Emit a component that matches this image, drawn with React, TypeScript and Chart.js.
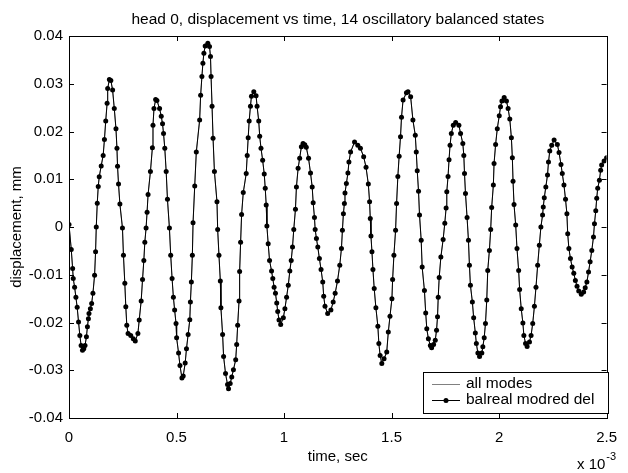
import React, { useEffect, useRef } from "react";
import { Chart, registerables } from "chart.js";

Chart.register(...registerables);

// ---- data (time in units of 1e-3 s, displacement in mm) ----
const timeMs = [
  0.0, 0.0105, 0.0169, 0.0197, 0.0261, 0.0321, 0.038, 0.0444, 0.0504, 0.0563,
  0.0627, 0.0687, 0.0746, 0.081, 0.0856, 0.0902, 0.093, 0.0994, 0.1053, 0.1113,
  0.119, 0.1236, 0.1268, 0.1314, 0.136, 0.1406, 0.1497, 0.1589, 0.1648, 0.1708,
  0.1772, 0.1799, 0.1877, 0.1946, 0.2028, 0.2106, 0.2184, 0.223, 0.2257, 0.2303,
  0.2367, 0.2486, 0.2532, 0.2596, 0.2642, 0.2688, 0.2747, 0.2871, 0.299, 0.3082,
  0.3205, 0.3265, 0.3356, 0.342, 0.348, 0.3526, 0.3585, 0.3631, 0.3677, 0.3787,
  0.3878, 0.3906, 0.3952, 0.4029, 0.4089, 0.4212, 0.429, 0.435, 0.4396, 0.4455,
  0.4519, 0.4579, 0.467, 0.473, 0.4794, 0.4854, 0.4913, 0.4977, 0.5005, 0.5096,
  0.516, 0.5252, 0.5311, 0.5403, 0.5463, 0.554, 0.5618, 0.5646, 0.5691, 0.5737,
  0.5769, 0.5847, 0.592, 0.6076, 0.6122, 0.6181, 0.6227, 0.6273, 0.6333, 0.6456,
  0.6534, 0.658, 0.6607, 0.6653, 0.6699, 0.6763, 0.6882, 0.6914, 0.6974, 0.7038,
  0.7065, 0.7143, 0.7189, 0.728, 0.7372, 0.7418, 0.7496, 0.7569, 0.7647, 0.7752,
  0.7798, 0.7844, 0.7908, 0.7935, 0.7981, 0.8027, 0.8104, 0.8242, 0.8288, 0.8333,
  0.8379, 0.8439, 0.8485, 0.8594, 0.87, 0.8746, 0.8823, 0.8869, 0.8929, 0.9006,
  0.908, 0.9126, 0.9171, 0.9203, 0.9263, 0.9327, 0.9419, 0.9478, 0.9538, 0.9602,
  0.9661, 0.9707, 0.9767, 0.9844, 0.9968, 1.0041, 1.0119, 1.0197, 1.027, 1.0334,
  1.0394, 1.0453, 1.0531, 1.0577, 1.0655, 1.0728, 1.0806, 1.0884, 1.0966, 1.1035,
  1.114, 1.1232, 1.131, 1.1355, 1.1415, 1.1447, 1.1507, 1.1571, 1.1644, 1.1722,
  1.18, 1.1845, 1.1905, 1.2029, 1.218, 1.2285, 1.2377, 1.2486, 1.2592, 1.267,
  1.2715, 1.2761, 1.2807, 1.2834, 1.2899, 1.2972, 1.3018, 1.3095, 1.3279, 1.343,
  1.3553, 1.3704, 1.3814, 1.392, 1.3979, 1.4011, 1.4043, 1.4089, 1.4135, 1.4194,
  1.4272, 1.4364, 1.441, 1.4469, 1.4547, 1.4652, 1.4776, 1.4849, 1.4927, 1.5018,
  1.505, 1.511, 1.5188, 1.5234, 1.5293, 1.5353, 1.5417, 1.5463, 1.5536, 1.5692,
  1.5765, 1.5888, 1.5994, 1.6104, 1.615, 1.6195, 1.6255, 1.6301, 1.6379, 1.6424,
  1.6529, 1.6589, 1.6639, 1.6713, 1.6804, 1.6864, 1.6955, 1.7033, 1.7093, 1.7138,
  1.7171, 1.7216, 1.7294, 1.7399, 1.7477, 1.7537, 1.7569, 1.7628, 1.7674, 1.772,
  1.778, 1.7871, 1.7981, 1.8132, 1.821, 1.8315, 1.8361, 1.8393, 1.8439, 1.8512,
  1.8576, 1.8622, 1.8668, 1.8759, 1.8819, 1.8897, 1.8943, 1.9016, 1.9093, 1.9199,
  1.9245, 1.9309, 1.9368, 1.9428, 1.9474, 1.9551, 1.9611, 1.9657, 1.9735, 1.9767,
  1.984, 1.9918, 2.0009, 2.0069, 2.0133, 2.0238, 2.0344, 2.0421, 2.0499, 2.0573,
  2.0618, 2.065, 2.0696, 2.0774, 2.0834, 2.0911, 2.0957, 2.1031, 2.1108, 2.1154,
  2.1232, 2.1305, 2.1415, 2.1489, 2.1566, 2.1644, 2.1717, 2.1795, 2.1873, 2.1946,
  2.2024, 2.2056, 2.2102, 2.2175, 2.2253, 2.2299, 2.2358, 2.245, 2.256, 2.2711,
  2.2789, 2.288, 2.294, 2.3018, 2.3091, 2.3155, 2.3192, 2.3247, 2.332, 2.3398,
  2.3476, 2.3549, 2.3627, 2.3705, 2.3823, 2.3933, 2.4006, 2.4084, 2.4162, 2.4235,
  2.4313, 2.4391, 2.4437, 2.4497, 2.4542, 2.4588, 2.4666, 2.4726, 2.4771, 2.4886,
  2.5,
];

const displacement = [
  0.0005, -0.0047, -0.0087, -0.0108, -0.0126, -0.0147, -0.0168, -0.0199, -0.0227, -0.0248,
  -0.0258, -0.0255, -0.0248, -0.023, -0.0209, -0.0192, -0.0181, -0.0171, -0.016, -0.0139,
  -0.0101, -0.0052, 0.0, 0.005, 0.0085, 0.0105, 0.0128, 0.015, 0.0183, 0.0222,
  0.0259, 0.029, 0.0309, 0.0307, 0.0287, 0.0248, 0.0206, 0.0165, 0.0127, 0.009,
  0.0048, -0.0002, -0.0059, -0.0118, -0.0167, -0.0206, -0.0223, -0.0227, -0.0234, -0.0239,
  -0.0223, -0.0195, -0.0155, -0.011, -0.007, -0.0032, -0.0002, 0.0031, 0.0068, 0.0116,
  0.0166, 0.0213, 0.0248, 0.0267, 0.0265, 0.0248, 0.0232, 0.0216, 0.0196, 0.0165,
  0.0116, 0.0058, -0.0002, -0.0059, -0.0108, -0.0147, -0.0174, -0.0202, -0.0232, -0.0264,
  -0.029, -0.0316, -0.0312, -0.0285, -0.0255, -0.0225, -0.0194, -0.0157, -0.0115, -0.0059,
  0.0009, 0.0086, 0.0157, 0.0224, 0.0276, 0.0315, 0.0343, 0.0364, 0.0379, 0.0385,
  0.0378, 0.0357, 0.0315, 0.0253, 0.0186, 0.0116, 0.0053, -0.0005, -0.0059, -0.0113,
  -0.0169, -0.0225, -0.0271, -0.0307, -0.033, -0.0339, -0.0328, -0.0314, -0.0299, -0.0278,
  -0.0246, -0.0206, -0.0155, -0.0093, -0.0032, 0.0026, 0.0072, 0.0112, 0.015, 0.0187,
  0.0222, 0.0253, 0.0274, 0.0283, 0.0275, 0.0253, 0.0222, 0.019, 0.0165, 0.014,
  0.0111, 0.0081, 0.0046, 0.0002, -0.0035, -0.007, -0.0092, -0.0108, -0.0126, -0.0139,
  -0.0159, -0.0177, -0.0195, -0.0204, -0.019, -0.0171, -0.0147, -0.0122, -0.0092, -0.007,
  -0.0042, -0.0005, 0.0037, 0.0084, 0.0123, 0.0144, 0.0168, 0.0175, 0.0172, 0.0167,
  0.0144, 0.0113, 0.0084, 0.0051, 0.002, -0.0005, -0.0024, -0.0042, -0.0066, -0.0089,
  -0.0115, -0.0145, -0.0166, -0.0181, -0.0174, -0.0157, -0.0139, -0.0113, -0.008, -0.0045,
  -0.0007, 0.0028, 0.0049, 0.0071, 0.0091, 0.0113, 0.0136, 0.0157, 0.0178, 0.0171,
  0.0165, 0.0147, 0.0125, 0.009, 0.0053, 0.0018, -0.0019, -0.0052, -0.0089, -0.0129,
  -0.0169, -0.0208, -0.0244, -0.0269, -0.0286, -0.0276, -0.0262, -0.022, -0.0187, -0.015,
  -0.011, -0.0059, -0.0007, 0.0049, 0.0106, 0.0148, 0.0189, 0.023, 0.0266, 0.0281,
  0.0283, 0.0273, 0.0224, 0.0192, 0.0157, 0.0118, 0.0075, 0.0025, -0.0028, -0.0084,
  -0.0133, -0.018, -0.0213, -0.0234, -0.0248, -0.0253, -0.0246, -0.0237, -0.0216, -0.0188,
  -0.0147, -0.0106, -0.0063, -0.0026, 0.0008, 0.004, 0.0074, 0.0106, 0.0141, 0.0171,
  0.0196, 0.0213, 0.0219, 0.0213, 0.0196, 0.0175, 0.015, 0.0112, 0.007, 0.002,
  -0.0028, -0.008, -0.0122, -0.0157, -0.019, -0.0222, -0.0244, -0.0264, -0.0271, -0.0264,
  -0.0251, -0.0232, -0.0202, -0.0153, -0.0091, -0.0049, -0.0005, 0.0041, 0.0088, 0.0133,
  0.0173, 0.0206, 0.0233, 0.0252, 0.0264, 0.0271, 0.0264, 0.0248, 0.0226, 0.0187,
  0.0145, 0.0096, 0.0047, 0.0004, -0.0045, -0.0091, -0.0131, -0.0171, -0.0201, -0.0227,
  -0.0244, -0.025, -0.0241, -0.0227, -0.0202, -0.0166, -0.0126, -0.008, -0.0038, 0.0,
  0.0025, 0.0042, 0.0061, 0.0084, 0.0109, 0.0136, 0.0159, 0.0171, 0.0182, 0.0173,
  0.0156, 0.0131, 0.0112, 0.0088, 0.0058, 0.0028, -0.0014, -0.0045, -0.0066, -0.0084,
  -0.0097, -0.0112, -0.0124, -0.0134, -0.0141, -0.0136, -0.0127, -0.0115, -0.0094, -0.0073,
  -0.0049, -0.0021, 0.0007, 0.0034, 0.006, 0.0081, 0.0098, 0.0119, 0.013, 0.0138,
  0.0145,
];

const xTickValues = [0, 0.5, 1, 1.5, 2, 2.5];
const xTickLabels = ["0", "0.5", "1", "1.5", "2", "2.5"];
const yTickValues = [-0.04, -0.03, -0.02, -0.01, 0, 0.01, 0.02, 0.03, 0.04];
const yTickLabels = ["-0.04", "-0.03", "-0.02", "-0.01", "0", "0.01", "0.02", "0.03", "0.04"];

const titleText = "head 0, displacement vs time, 14 oscillatory balanced states";
const xAxisTitle = "time, sec";
const yAxisTitle = "displacement, mm";
const xExponentBase = "x 10";
const xExponent = "-3";
const seriesNames = ["all modes", "balreal modred del"];

const FONT = '"Liberation Sans", Arial, Helvetica, sans-serif';

const W = 628;
const H = 473;

const matlabPlugin = {
  id: "matlabDecor",
  beforeDraw(chart: any) {
    const ctx = chart.ctx;
    ctx.save();
    ctx.fillStyle = "#ffffff";
    ctx.fillRect(0, 0, chart.width, chart.height);
    ctx.restore();
  },
  afterDraw(chart: any) {
    const { ctx, chartArea: a, scales } = chart;
    ctx.save();
    // frame
    ctx.strokeStyle = "#000";
    ctx.lineWidth = 1;
    ctx.strokeRect(Math.round(a.left) + 0.5, Math.round(a.top) + 0.5, Math.round(a.right - a.left), Math.round(a.bottom - a.top));
    // inward ticks
    const tl = 5;
    ctx.beginPath();
    for (const v of xTickValues) {
      const x = Math.round(scales.x.getPixelForValue(v)) + 0.5;
      ctx.moveTo(x, a.bottom);
      ctx.lineTo(x, a.bottom - tl);
      ctx.moveTo(x, a.top);
      ctx.lineTo(x, a.top + tl);
    }
    for (const v of yTickValues) {
      const y = Math.round(scales.y.getPixelForValue(v)) + 0.5;
      ctx.moveTo(a.left, y);
      ctx.lineTo(a.left + tl, y);
      ctx.moveTo(a.right, y);
      ctx.lineTo(a.right - tl, y);
    }
    ctx.stroke();

    // title
    ctx.fillStyle = "#000";
    ctx.font = `15.5px ${FONT}`;
    ctx.textAlign = "center";
    ctx.textBaseline = "middle";
    const cx = (a.left + a.right) / 2;
    ctx.fillText(titleText, cx, 20);

    // x axis title
    ctx.font = `15px ${FONT}`;
    ctx.fillText(xAxisTitle, cx, 457);

    // exponent
    ctx.textAlign = "left";
    ctx.font = `15px ${FONT}`;
    ctx.fillText(xExponentBase, 577, 465);
    const bw = ctx.measureText(xExponentBase).width;
    ctx.font = `11px ${FONT}`;
    ctx.fillText(xExponent, 577 + bw + 1, 457);

    // y axis title
    ctx.save();
    ctx.translate(17, (a.top + a.bottom) / 2);
    ctx.rotate(-Math.PI / 2);
    ctx.font = `15px ${FONT}`;
    ctx.textAlign = "center";
    ctx.textBaseline = "middle";
    ctx.fillText(yAxisTitle, 0, 0);
    ctx.restore();

    // legend
    const lx = 423, ly = 372, lw = 185, lh = 41;
    ctx.fillStyle = "#fff";
    ctx.fillRect(lx, ly, lw, lh);
    ctx.strokeStyle = "#000";
    ctx.lineWidth = 1;
    ctx.strokeRect(lx + 0.5, ly + 0.5, lw, lh);
    const rows = [ly + 12, ly + 28];
    const ds = chart.data.datasets;
    ctx.strokeStyle = ds[0].borderColor;
    ctx.beginPath();
    ctx.moveTo(lx + 9, rows[0] + 0.5);
    ctx.lineTo(lx + 37, rows[0] + 0.5);
    ctx.stroke();
    ctx.strokeStyle = ds[1].borderColor;
    ctx.beginPath();
    ctx.moveTo(lx + 9, rows[1] + 0.5);
    ctx.lineTo(lx + 37, rows[1] + 0.5);
    ctx.stroke();
    ctx.fillStyle = ds[1].pointBackgroundColor;
    ctx.beginPath();
    ctx.arc(lx + 23, rows[1] + 0.5, 2.5, 0, Math.PI * 2);
    ctx.fill();
    ctx.fillStyle = "#000";
    ctx.font = `15.5px ${FONT}`;
    ctx.textAlign = "left";
    ctx.textBaseline = "middle";
    ctx.fillText(ds[0].label, lx + 43, rows[0]);
    ctx.fillText(ds[1].label, lx + 43, rows[1]);
    ctx.restore();
  },
};

export default function App() {
  const ref = useRef<HTMLCanvasElement>(null);
  useEffect(() => {
    if (!ref.current) return;
    const pts = timeMs.map((t, i) => ({ x: t, y: displacement[i] }));
    const chart = new Chart(ref.current, {
      type: "line",
      data: {
        datasets: [
          {
            label: seriesNames[0],
            data: pts,
            borderColor: "#808080",
            borderWidth: 1,
            pointRadius: 0,
            order: 1,
          },
          {
            label: seriesNames[1],
            data: pts,
            borderColor: "#000000",
            borderWidth: 1,
            pointRadius: 2.5,
            pointBackgroundColor: "#000000",
            pointBorderWidth: 0,
            order: 0,
          },
        ],
      },
      options: {
        animation: false,
        responsive: false,
        devicePixelRatio: 1,
        layout: { padding: { top: 36, right: W - 615, left: 0, bottom: 0 } },
        plugins: { legend: { display: false }, tooltip: { enabled: false }, title: { display: false } },
        scales: {
          x: {
            type: "linear",
            min: 0,
            max: 2.5,
            afterBuildTicks: (s: any) => {
              s.ticks = xTickValues.map((v) => ({ value: v }));
            },
            afterFit: (s: any) => {
              s.height = H - 418;
            },
            grid: { display: false, drawTicks: false },
            border: { display: false },
            ticks: {
              autoSkip: false,
              maxRotation: 0,
              padding: 11,
              color: "#000",
              font: { family: FONT, size: 15 },
              callback: (_v: any, i: number) => xTickLabels[i],
            },
          },
          y: {
            type: "linear",
            min: -0.04,
            max: 0.04,
            afterBuildTicks: (s: any) => {
              s.ticks = yTickValues.map((v) => ({ value: v }));
            },
            afterFit: (s: any) => {
              s.width = 69;
            },
            grid: { display: false, drawTicks: false },
            border: { display: false },
            ticks: {
              autoSkip: false,
              padding: 6,
              color: "#000",
              font: { family: FONT, size: 15 },
              callback: (_v: any, i: number) => yTickLabels[i],
            },
          },
        },
      },
      plugins: [matlabPlugin],
    } as any);
    return () => chart.destroy();
  }, []);
  return (
    <div style={{ position: "fixed", left: 0, top: 0, width: W, height: H, background: "#fff" }}>
      <canvas ref={ref} width={W} height={H} style={{ display: "block", width: W, height: H }} />
    </div>
  );
}
